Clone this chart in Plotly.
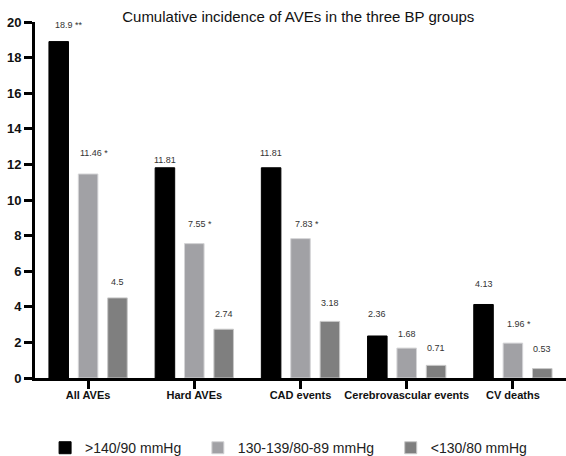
import plotly.graph_objects as go

categories = ["All AVEs", "Hard AVEs", "CAD events", "Cerebrovascular events", "CV deaths"]
series_names = [">140/90 mmHg", "130-139/80-89 mmHg", "<130/80 mmHg"]
high_bp = [18.9, 11.81, 11.81, 2.36, 4.13]
mid_bp = [11.46, 7.55, 7.83, 1.68, 1.96]
low_bp = [4.5, 2.74, 3.18, 0.71, 0.53]
high_marks = ["**", "", "", "", ""]
mid_marks = ["*", "*", "*", "", "*"]
low_marks = ["", "", "", "", ""]
y_ticks = [0, 2, 4, 6, 8, 10, 12, 14, 16, 18, 20]

colors = ["#000000", "#a1a1a5", "#7f7f7f"]
line_colors = ["#000000", "#d4d4d6", "#c8c8c8"]
legend_pad = ["\u00a0" * 3, "\u00a0" * 3, ""]
all_values = [high_bp, mid_bp, low_bp]
all_marks = [high_marks, mid_marks, low_marks]
label_gap = [[17, 8, 15, 22, 20], [21, 20, 15, 14, 19], [16, 15, 18, 17, 20]]

fig = go.Figure()
for name, pad, vals, c, lc in zip(series_names, legend_pad, all_values, colors, line_colors):
    fig.add_trace(go.Bar(
        x=categories, y=vals, name=name + pad,
        marker=dict(color=c, line=dict(color=lc, width=1)),
        hoverinfo="skip",
    ))

slot_px = 29.3
annotations = []
for si, (vals, marks) in enumerate(zip(all_values, all_marks)):
    for ci, (cat, v, m) in enumerate(zip(categories, vals, marks)):
        txt = f"{v:g}" + (f" {m}" if m else "")
        extra = 4 * len(m) + (2 if m else 0)
        annotations.append(dict(
            x=cat, y=v, xref="x", yref="y", text=txt, showarrow=False,
            xshift=(si - 1) * slot_px + extra, yshift=label_gap[si][ci],
            font=dict(family="Liberation Sans, Arial", size=9, color="#333333"),
            xanchor="center", yanchor="middle",
        ))

fig.update_layout(
    width=566, height=456,
    margin=dict(l=35, r=0, t=22, b=78, autoexpand=False),
    paper_bgcolor="white", plot_bgcolor="white",
    barmode="group", bargap=0.17, bargroupgap=0.335,
    title=dict(text="Cumulative incidence of AVEs in the three BP groups",
               x=0.527, xanchor="center", y=0.963, yanchor="middle",
               font=dict(family="Liberation Sans, Arial", size=15, color="#111111")),
    font=dict(family="Liberation Sans, Arial", color="#000000"),
    showlegend=True,
    legend=dict(orientation="h", x=0.019, xanchor="left", y=-0.197, yanchor="middle",
                font=dict(family="Liberation Sans, Arial", size=14, color="#222222"),
                traceorder="normal", itemclick=False),
    annotations=annotations,
)
fig.update_xaxes(
    showline=True, linecolor="black", linewidth=3,
    ticks="outside", ticklen=8, tickwidth=3, tickcolor="black",
    tickfont=dict(family="Liberation Sans, Arial", size=11, color="#111111", weight="bold"),
    showgrid=False, range=[-0.5, 4.5], automargin=False, ticklabelstandoff=-3,
)
fig.update_yaxes(
    range=[0, 20], tickvals=y_ticks,
    showline=True, linecolor="black", linewidth=3,
    ticks="outside", ticklen=8, tickwidth=3, tickcolor="black",
    tickfont=dict(family="Liberation Sans, Arial", size=13, color="#111111", weight="bold"),
    showgrid=False, zeroline=False, automargin=False,
)
fig.write_html("out.html", config={"displayModeBar": False},
               post_script="document.body.style.margin='0';document.body.style.overflow='hidden';")
